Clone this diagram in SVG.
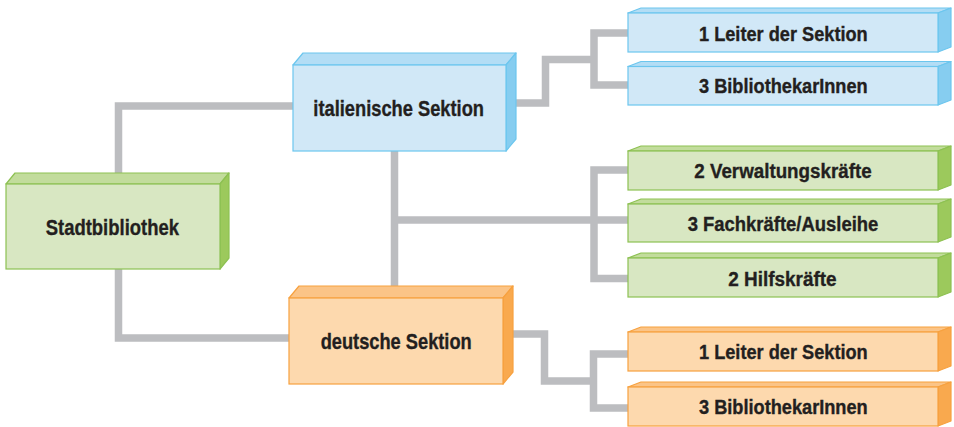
<svg xmlns="http://www.w3.org/2000/svg" width="954" height="427" viewBox="0 0 954 427">
  <style>
    .bg { fill: #ffffff; }
    .wire { fill: none; stroke: #bcbdc0; stroke-width: 7.5; stroke-linejoin: miter; stroke-linecap: butt; }
    .lbl { font-family: "Liberation Sans", Arial, sans-serif; font-weight: bold; fill: #231f20; stroke: #231f20; stroke-width: 0.35; }
    .big { font-size: 22px; }
    .small { font-size: 20px; }
    .g .front { fill: #d8e7c2; stroke: #8dc152; stroke-width: 1.2; }
    .g .top { fill: #c2dc9c; stroke: #8dc152; stroke-width: 1.2; stroke-linejoin: round; }
    .g .side { fill: #9cc95c; stroke: #8dc152; stroke-width: 1.2; stroke-linejoin: round; }
    .b .front { fill: #d1e8f7; stroke: #6cc6ee; stroke-width: 1.2; }
    .b .top { fill: #b3ddf5; stroke: #6cc6ee; stroke-width: 1.2; stroke-linejoin: round; }
    .b .side { fill: #86cdf0; stroke: #6cc6ee; stroke-width: 1.2; stroke-linejoin: round; }
    .o .front { fill: #fdd9ae; stroke: #f7a13f; stroke-width: 1.2; }
    .o .top { fill: #fbc487; stroke: #f7a13f; stroke-width: 1.2; stroke-linejoin: round; }
    .o .side { fill: #f9a94e; stroke: #f7a13f; stroke-width: 1.2; stroke-linejoin: round; }
  </style>

  <rect class="bg" x="0" y="0" width="954" height="427"/>

  <!-- connector lines, drawn beneath the boxes -->
  <g id="connectors">
    <path class="wire" d="M118.5,180 V106 H294"/>
    <path class="wire" d="M118.5,268 V338 H290"/>
    <path class="wire" d="M505,103 H545.5 V59.5 H594"/>
    <path class="wire" d="M629,33 H594 V85 H629"/>
    <path class="wire" d="M394.5,150 V293"/>
    <path class="wire" d="M394.5,220 H629"/>
    <path class="wire" d="M629,170 H594 V278.5 H629"/>
    <path class="wire" d="M502,334 H544.5 V381 H593.5"/>
    <path class="wire" d="M629,354 H593.5 V408 H629"/>
  </g>

  <!-- main units -->
  <g id="stadtbibliothek" class="g">
    <polygon class="top" points="6,184 15,173 229,173 220,184"/>
    <polygon class="side" points="220,184 229,173 229,258 220,269"/>
    <rect class="front" x="6" y="184" width="214" height="85"/>
    <text class="lbl big" x="45.7" y="235" textLength="133.3" lengthAdjust="spacingAndGlyphs">Stadtbibliothek</text>
  </g>

  <g id="italienische-sektion" class="b">
    <polygon class="top" points="293,65 303,53 516,53 506,65"/>
    <polygon class="side" points="506,65 516,53 516,139 506,151"/>
    <rect class="front" x="293" y="65" width="213" height="86"/>
    <text class="lbl big" x="313.3" y="116" textLength="170.7" lengthAdjust="spacingAndGlyphs">italienische Sektion</text>
  </g>

  <g id="deutsche-sektion" class="o">
    <polygon class="top" points="289,298 299,286 513,286 503,298"/>
    <polygon class="side" points="503,298 513,286 513,372 503,384"/>
    <rect class="front" x="289" y="298" width="214" height="86"/>
    <text class="lbl big" x="320.7" y="349" textLength="151" lengthAdjust="spacingAndGlyphs">deutsche Sektion</text>
  </g>

  <!-- staff of the Italian section -->
  <g id="it-leiter" class="b">
    <polygon class="top" points="628,13 641,8 951,8 938,13"/>
    <polygon class="side" points="938,13 951,8 951,47 938,52"/>
    <rect class="front" x="628" y="13" width="310" height="39"/>
    <text class="lbl small" x="699" y="40.7" textLength="168.7" lengthAdjust="spacingAndGlyphs">1 Leiter der Sektion</text>
  </g>

  <g id="it-bibliothekare" class="b">
    <polygon class="top" points="628,66.5 641,61.5 951,61.5 938,66.5"/>
    <polygon class="side" points="938,66.5 951,61.5 951,100 938,105"/>
    <rect class="front" x="628" y="66.5" width="310" height="38.5"/>
    <text class="lbl small" x="699" y="92.7" textLength="168.7" lengthAdjust="spacingAndGlyphs">3 BibliothekarInnen</text>
  </g>

  <!-- shared staff -->
  <g id="verwaltung" class="g">
    <polygon class="top" points="628,151 641,146 951,146 938,151"/>
    <polygon class="side" points="938,151 951,146 951,185 938,190"/>
    <rect class="front" x="628" y="151" width="310" height="39"/>
    <text class="lbl small" x="694.3" y="177.7" textLength="177.3" lengthAdjust="spacingAndGlyphs">2 Verwaltungskräfte</text>
  </g>

  <g id="fachkraefte" class="g">
    <polygon class="top" points="628,204 641,199 951,199 938,204"/>
    <polygon class="side" points="938,204 951,199 951,237 938,242"/>
    <rect class="front" x="628" y="204" width="310" height="38"/>
    <text class="lbl small" x="687.7" y="230.7" textLength="190.6" lengthAdjust="spacingAndGlyphs">3 Fachkräfte/Ausleihe</text>
  </g>

  <g id="hilfskraefte" class="g">
    <polygon class="top" points="628,258 641,253 951,253 938,258"/>
    <polygon class="side" points="938,258 951,253 951,292 938,297"/>
    <rect class="front" x="628" y="258" width="310" height="39"/>
    <text class="lbl small" x="728.3" y="285.7" textLength="108.3" lengthAdjust="spacingAndGlyphs">2 Hilfskräfte</text>
  </g>

  <!-- staff of the German section -->
  <g id="de-leiter" class="o">
    <polygon class="top" points="628,332 641,327 951,327 938,332"/>
    <polygon class="side" points="938,332 951,327 951,366 938,371"/>
    <rect class="front" x="628" y="332" width="310" height="39"/>
    <text class="lbl small" x="699" y="359" textLength="168.7" lengthAdjust="spacingAndGlyphs">1 Leiter der Sektion</text>
  </g>

  <g id="de-bibliothekare" class="o">
    <polygon class="top" points="628,387 641,382 951,382 938,387"/>
    <polygon class="side" points="938,387 951,382 951,421 938,426"/>
    <rect class="front" x="628" y="387" width="310" height="39"/>
    <text class="lbl small" x="699" y="414" textLength="168.7" lengthAdjust="spacingAndGlyphs">3 BibliothekarInnen</text>
  </g>
</svg>
